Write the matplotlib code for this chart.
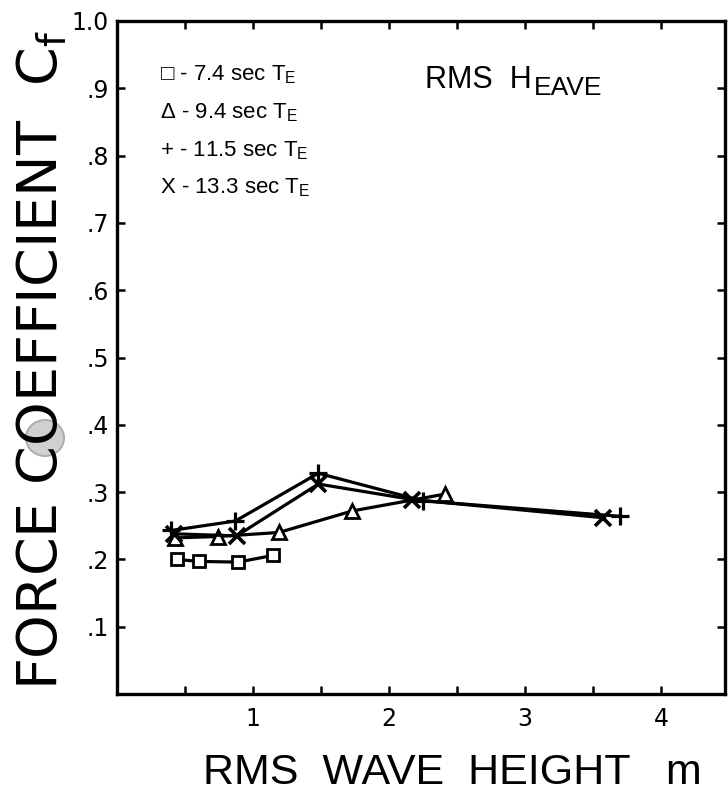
import matplotlib
matplotlib.use("Agg")
import matplotlib.pyplot as plt
from matplotlib.patches import Ellipse

plt.rcParams["font.family"] = ["DejaVu Sans"]
narrow = ["Liberation Sans", "DejaVu Sans"]

# RMS wave height (m) vs force coefficient Cf, one series per encounter period
sq_x = [0.44, 0.60, 0.89, 1.15]
sq_y = [0.200, 0.197, 0.196, 0.206]
tri_x = [0.43, 0.74, 1.19, 1.73, 2.41]
tri_y = [0.232, 0.234, 0.240, 0.272, 0.297]
plus_x = [0.40, 0.87, 1.48, 2.25, 3.70]
plus_y = [0.243, 0.257, 0.328, 0.287, 0.264]
cross_x = [0.42, 0.88, 1.48, 2.17, 3.57]
cross_y = [0.238, 0.235, 0.312, 0.289, 0.262]

legend_rows = [
    "\u25a1 - 7.4 sec T$\\mathregular{_E}$",
    "\u0394 - 9.4 sec T$\\mathregular{_E}$",
    "+ - 11.5 sec T$\\mathregular{_E}$",
    "X - 13.3 sec T$\\mathregular{_E}$",
]
xticks = [1, 2, 3, 4]
xminor = [0.5, 1.5, 2.5, 3.5]
yticks = [0.1, 0.2, 0.3, 0.4, 0.5, 0.6, 0.7, 0.8, 0.9, 1.0]
ytick_labels = [".1", ".2", ".3", ".4", ".5", ".6", ".7", ".8", ".9", "1.0"]

W, H = 728, 794
fig = plt.figure(figsize=(W / 100, H / 100), dpi=100)
ax = fig.add_axes([117 / W, 1 - 694 / H, (725 - 117) / W, (694 - 21) / H])

lw = 2.3
ax.plot(sq_x, sq_y, color="k", lw=lw, marker="s", ms=8, mfc="white", mec="k", mew=2)
ax.plot(tri_x, tri_y, color="k", lw=lw, marker="^", ms=10, mfc="white", mec="k", mew=2)
ax.plot(plus_x, plus_y, color="k", lw=lw, marker="+", ms=13, mew=2.3)
ax.plot(cross_x, cross_y, color="k", lw=lw, marker="x", ms=11, mew=2.6)

ax.set_xlim(0, 4.47)
ax.set_ylim(0, 1.0)
ax.set_xticks(xticks)
ax.set_xticklabels([str(t) for t in xticks])
ax.set_xticks(xminor, minor=True)
ax.set_yticks(yticks)
ax.set_yticklabels(ytick_labels)
ax.tick_params(which="both", direction="in", top=True, right=True,
               length=6, width=1.8, labelsize=17, pad=6)
ax.tick_params(axis="x", pad=9)
for s in ax.spines.values():
    s.set_linewidth(2.4)

for i, row in enumerate(legend_rows):
    ax.text(0.071, 0.92 - i * 0.056, row, transform=ax.transAxes,
            fontsize=16, va="center", ha="left", family=narrow)

t1 = ax.text(0.507, 0.90, "RMS  H", transform=ax.transAxes,
             fontsize=22, va="baseline", ha="left", family=narrow)
fig.canvas.draw()
bb = t1.get_window_extent()
fig.text(bb.x1 / W + 0.003, bb.y0 / H, "EAVE", fontsize=19,
         va="baseline", ha="left", family=narrow)

fig.text(42 / W, 1 - 360 / H, "FORCE COEFFICIENT  C$\\mathregular{_f}$",
         rotation=90, fontsize=40, va="center", ha="center")
fig.text(203 / W, 1 - 784 / H, "RMS  WAVE  HEIGHT   m",
         fontsize=31, va="baseline", ha="left", family=narrow)

# smudge over the label
fig.patches.append(Ellipse((45 / W, 1 - 438 / H), 38 / W, 36 / H,
                           transform=fig.transFigure, facecolor="#d0d0d0",
                           edgecolor="#b0b0b0", lw=1.5))

fig.savefig("out.png", dpi=100)
